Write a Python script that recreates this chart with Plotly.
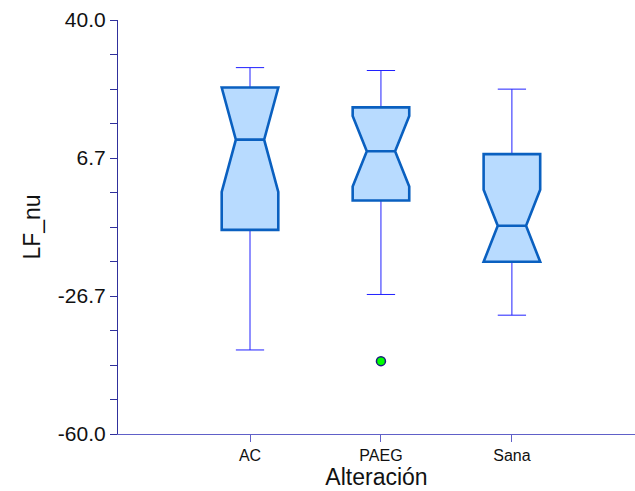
import plotly.graph_objects as go

# ---- data ----
categories = ["AC", "PAEG", "Sana"]
upper_whisker = [28.5, 27.8, 23.3]
q3_values = [23.7, 18.9, 7.6]
median_values = [11.1, 8.3, -9.7]
q1_values = [-10.7, -3.6, -18.4]
lower_whisker = [-39.7, -26.3, -31.3]
notch_spans = [12.6, 8.5, 8.7]
outlier_categories = ["PAEG"]
outlier_values = [-42.4]

y_tick_values = [-60.0, -26.6667, 6.6667, 40.0]
y_tick_labels = ["-60.0", "-26.7", "6.7", "40.0"]

FONT = "Liberation Sans, Arial, sans-serif"
BOX_LINE = "#0a60c0"
BOX_FILL = "#b8dbff"
WHISKER = "#2020ff"
BOX_W = 0.432

fig = go.Figure()

# whiskers (thin blue) – drawn first
for i, c in enumerate(categories):
    fig.add_trace(go.Box(
        x=[c], q1=[q1_values[i]], median=[median_values[i]], q3=[q3_values[i]],
        lowerfence=[lower_whisker[i]], upperfence=[upper_whisker[i]],
        notched=True, notchspan=[notch_spans[i]], notchwidth=0.25,
        width=BOX_W, whiskerwidth=0.5,
        line=dict(color=WHISKER, width=1), fillcolor="rgba(0,0,0,0)",
        boxpoints=False, showlegend=False, hoverinfo="skip",
    ))

# notched boxes (thick outline, light fill) on top
for i, c in enumerate(categories):
    fig.add_trace(go.Box(
        x=[c], q1=[q1_values[i]], median=[median_values[i]], q3=[q3_values[i]],
        lowerfence=[q1_values[i]], upperfence=[q3_values[i]],
        notched=True, notchspan=[notch_spans[i]], notchwidth=0.25,
        width=BOX_W, whiskerwidth=0,
        line=dict(color=BOX_LINE, width=2.6), fillcolor=BOX_FILL,
        boxpoints=False, showlegend=False, name=c,
    ))

fig.add_trace(go.Scatter(
    x=outlier_categories, y=outlier_values, mode="markers",
    marker=dict(color="#00ff00", size=9, line=dict(color="#1a1a80", width=1.5)),
    showlegend=False,
))

fig.update_layout(
    width=635, height=491,
    margin=dict(l=118, r=0, t=20, b=57),
    paper_bgcolor="white", plot_bgcolor="white",
    boxmode="overlay",
    font=dict(family=FONT, color="#111111"),
    showlegend=False,
)

fig.update_xaxes(
    type="category", categoryorder="array", categoryarray=categories,
    range=[-1.008, 2.94],
    showline=True, linecolor="#6060c8", linewidth=1.2,
    ticks="outside", ticklen=7, tickcolor="#6060c8", tickwidth=1.2,
    showgrid=False, zeroline=False,
    tickfont=dict(size=16, family=FONT),
    title=dict(text="Alteración", font=dict(size=23, family=FONT), standoff=4),
)

fig.update_yaxes(
    range=[-60, 40],
    tickmode="array", tickvals=y_tick_values, ticktext=y_tick_labels,
    showline=True, linecolor="#30309c", linewidth=1.2,
    ticks="outside", ticklen=7, tickcolor="#30309c", tickwidth=1.2,
    minor=dict(tickmode="linear", tick0=-60, dtick=100 / 12, ticks="outside",
               ticklen=7, tickcolor="#30309c", tickwidth=1.2, showgrid=False),
    showgrid=False, zeroline=False,
    tickfont=dict(size=21, family=FONT),
    title=dict(text="LF_nu", font=dict(size=23, family=FONT), standoff=10),
)

fig.write_html(
    "out.html",
    config={"displayModeBar": False},
    post_script="document.body.style.margin='0';document.body.style.overflow='hidden';",
)
